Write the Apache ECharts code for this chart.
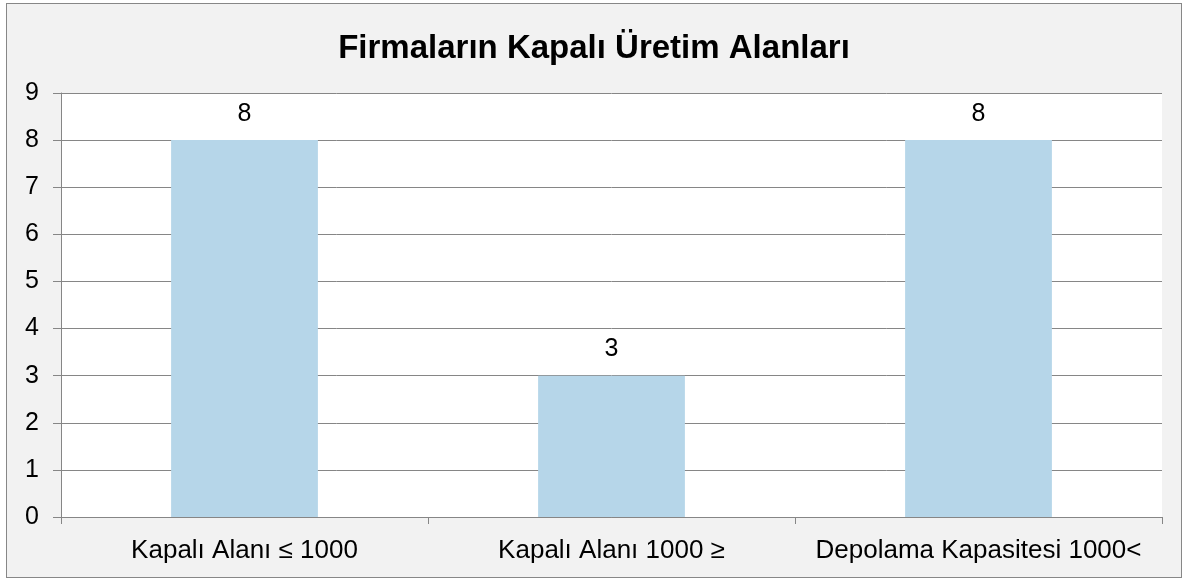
<!DOCTYPE html>
<html>
<head>
<meta charset="utf-8">
<script src="https://cdn.jsdelivr.net/npm/echarts@6/dist/echarts.min.js"></script>
<style>
body { margin: 0; background: #fff; }
#main { position: absolute; left: 6px; top: 3px; width: 1174px; height: 573px; border: 1px solid #878787; background: #f2f2f2; }
</style>
</head>
<body>
<div id="main"></div>
<script>
var myChart = echarts.init(document.getElementById('main'));

var titleText = 'Firmaların Kapalı Üretim Alanları';
var categories = ['Kapalı Alanı ≤ 1000', 'Kapalı Alanı 1000 ≥', 'Depolama Kapasitesi 1000<'];
var values = [8, 3, 8];

var font = 'Liberation Sans, Arial, sans-serif';

option = {
    backgroundColor: '#f2f2f2',
    animation: false,
    title: {
        text: titleText,
        left: 'center',
        top: 23,
        textStyle: {
            fontFamily: font,
            fontSize: 33,
            fontWeight: 'bold',
            color: '#000'
        }
    },
    grid: {
        left: 54,
        right: 19,
        top: 89,
        bottom: 60,
        show: true,
        backgroundColor: '#fff',
        borderWidth: 0
    },
    xAxis: {
        type: 'category',
        data: categories,
        axisLine: { lineStyle: { color: '#868686', width: 1 } },
        axisTick: { show: true, length: 7, lineStyle: { color: '#868686' } },
        axisLabel: {
            interval: 0,
            hideOverlap: false,
            margin: 21,
            fontFamily: font,
            fontSize: 26,
            color: '#000'
        }
    },
    yAxis: {
        type: 'value',
        min: 0,
        max: 9,
        interval: 1,
        axisLine: { show: true, lineStyle: { color: '#868686', width: 1 } },
        axisTick: { show: true, length: 8, lineStyle: { color: '#868686' } },
        axisLabel: {
            margin: 22,
            fontFamily: font,
            fontSize: 25,
            color: '#000'
        },
        splitLine: { lineStyle: { color: '#868686', width: 1 } }
    },
    series: [{
        type: 'bar',
        data: values,
        barWidth: '40%',
        itemStyle: { color: '#b6d6e9' },
        label: {
            show: true,
            position: 'top',
            distance: 14,
            fontFamily: font,
            fontSize: 25,
            color: '#000'
        }
    }]
};

myChart.setOption(option);
</script>
</body>
</html>
